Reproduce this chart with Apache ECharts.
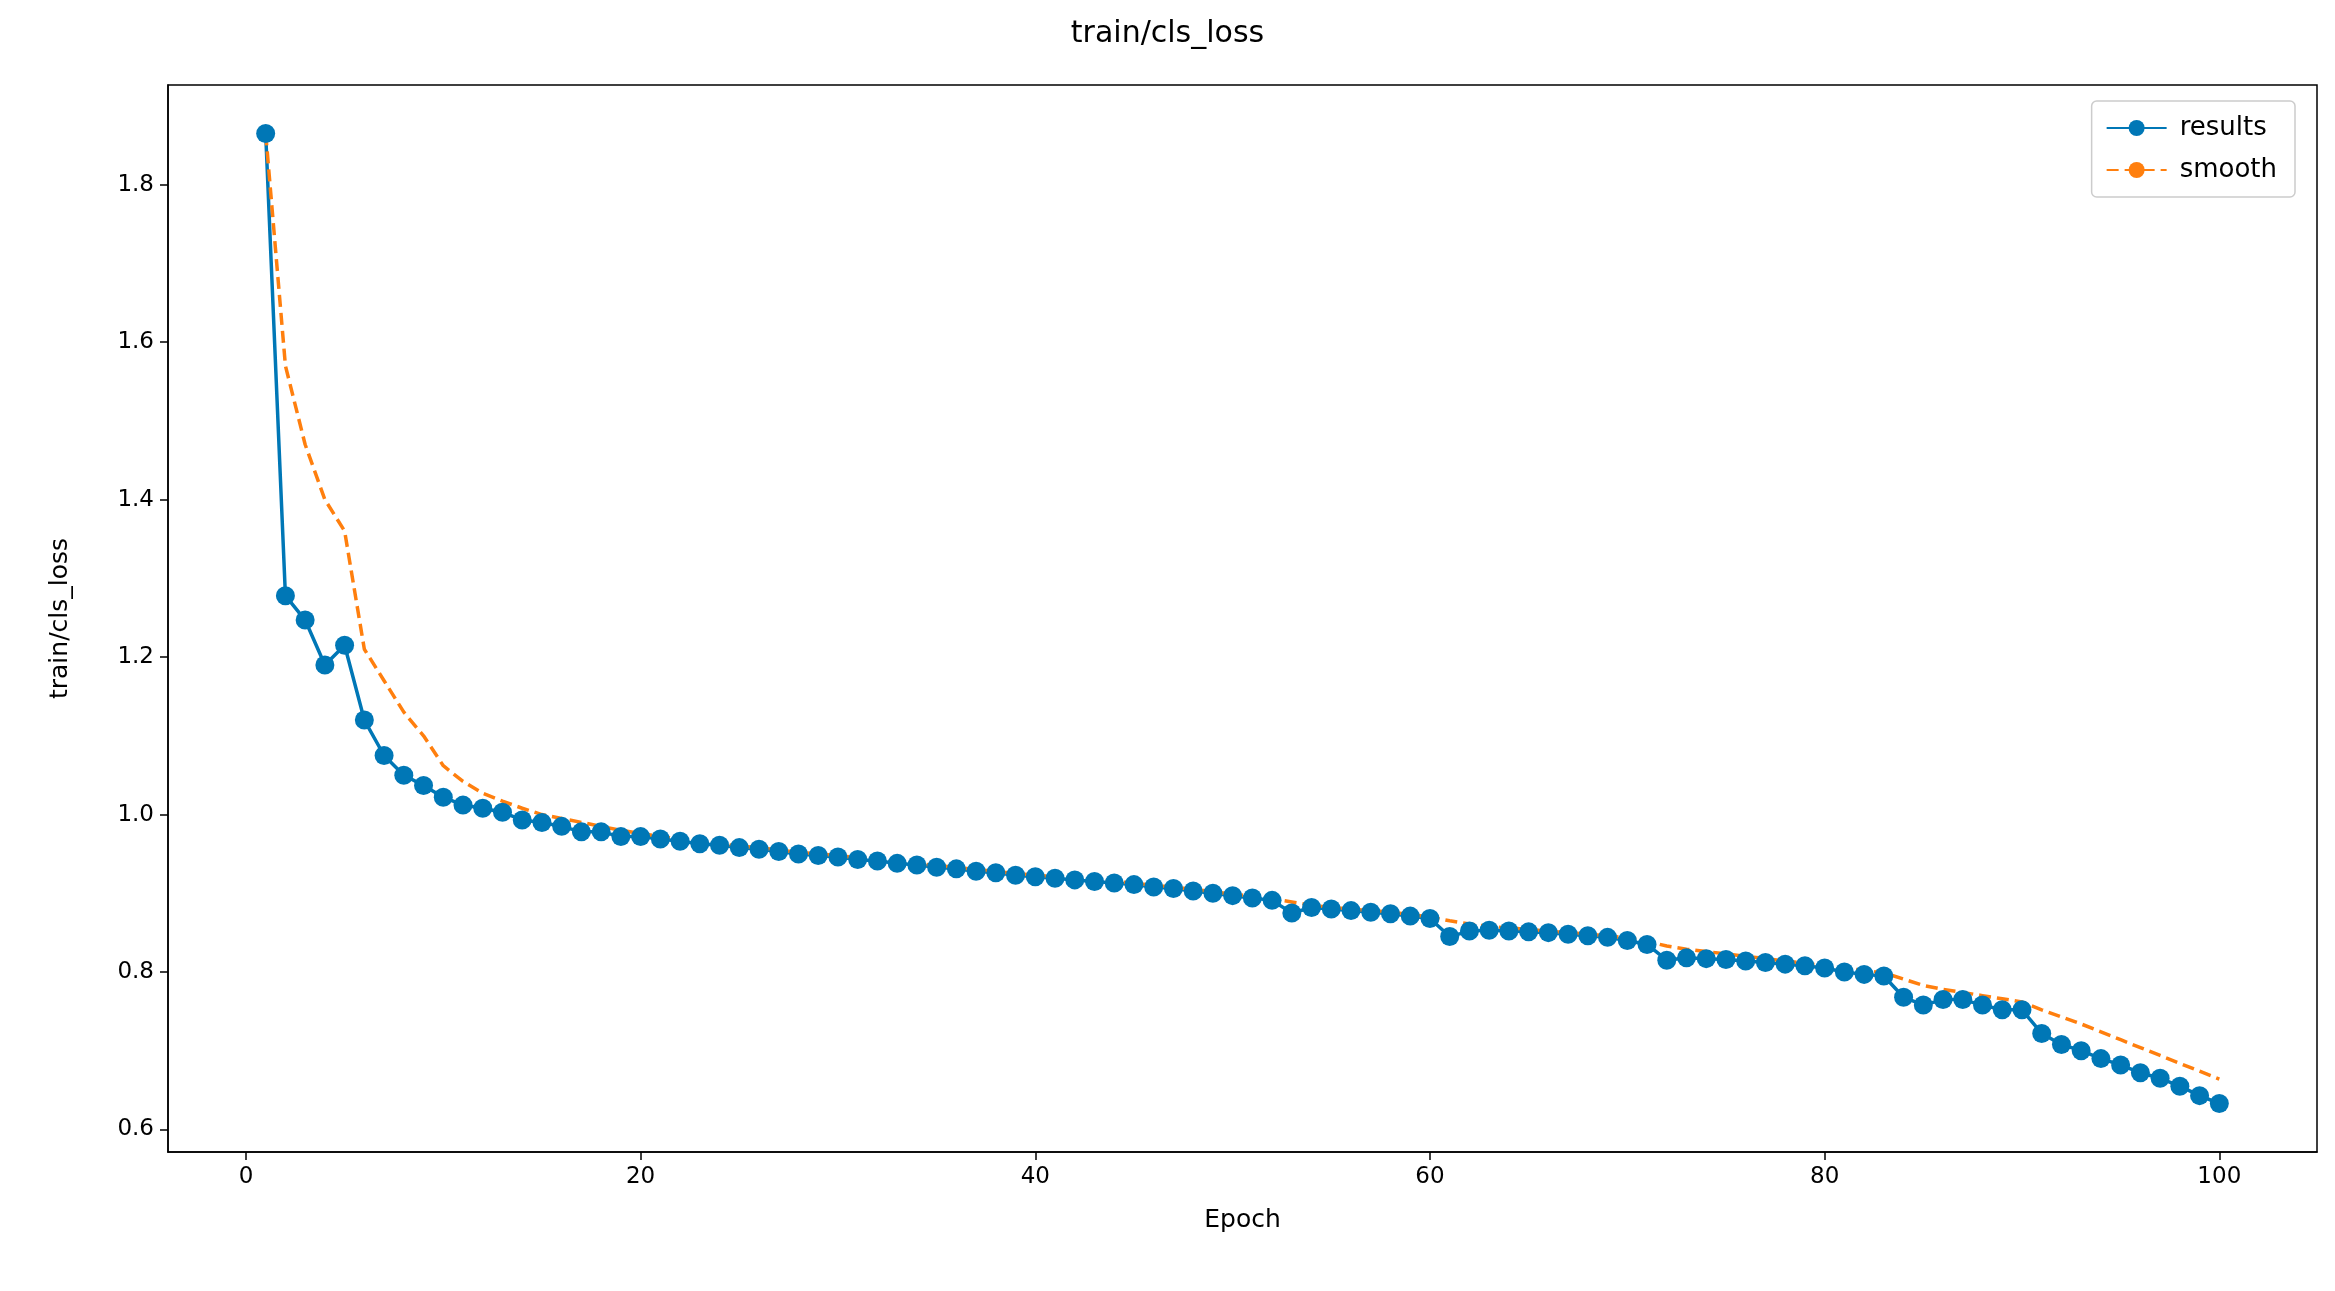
<!DOCTYPE html>
<html><head><meta charset="utf-8">
<script src="https://cdn.jsdelivr.net/npm/echarts@6/dist/echarts.min.js"></script>
<style>html,body{margin:0;padding:0;background:#fff}#c{width:2335px;height:1291px}</style>
</head><body><div id="c"></div>
<script>
const epochs = Array.from({length:100},(_, i)=>i+1);
const results = [1.865,1.278,1.247,1.19,1.215,1.12,1.075,1.05,1.037,1.022,
1.012,1.008,1.003,0.993,0.99,0.985,0.978,0.978,0.972,0.972,
0.969,0.966,0.963,0.961,0.958,0.956,0.953,0.950,0.948,0.946,
0.943,0.941,0.938,0.936,0.933,0.931,0.928,0.926,0.923,0.921,
0.919,0.917,0.915,0.913,0.911,0.908,0.906,0.903,0.900,0.897,
0.894,0.891,0.875,0.882,0.880,0.878,0.876,0.874,0.871,0.868,
0.845,0.852,0.853,0.852,0.851,0.850,0.848,0.846,0.844,0.840,
0.835,0.815,0.818,0.817,0.816,0.814,0.812,0.810,0.808,0.805,
0.800,0.797,0.795,0.768,0.758,0.765,0.765,0.758,0.752,0.752,
0.722,0.708,0.700,0.690,0.682,0.672,0.665,0.655,0.643,0.633];
const smooth = [1.865,1.57,1.47,1.40,1.36,1.21,1.17,1.13,1.10,1.062,
1.042,1.027,1.017,1.008,1.000,0.995,0.990,0.985,0.980,0.976,
0.972,0.969,0.966,0.963,0.960,0.958,0.955,0.952,0.950,0.948,
0.945,0.943,0.940,0.938,0.935,0.933,0.930,0.928,0.925,0.923,
0.921,0.919,0.917,0.915,0.913,0.910,0.908,0.905,0.902,0.899,
0.896,0.893,0.889,0.885,0.882,0.880,0.878,0.876,0.873,0.870,
0.865,0.861,0.858,0.856,0.854,0.852,0.850,0.848,0.846,0.843,
0.839,0.833,0.829,0.826,0.823,0.820,0.817,0.814,0.811,0.808,
0.805,0.802,0.799,0.791,0.783,0.778,0.774,0.770,0.766,0.762,
0.752,0.743,0.734,0.724,0.714,0.704,0.694,0.684,0.674,0.664];
const yTicks = [0.6,0.8,1.0,1.2,1.4,1.6,1.8];
const xTicks = [0,20,40,60,80,100];
const F = 'DejaVu Sans';
const chart = echarts.init(document.getElementById('c'));
chart.setOption({
  animation:false,
  title:{text:'train/cls_loss',left:'center',top:14,textStyle:{fontFamily:F,fontSize:30,fontWeight:'normal',color:'#000'}},
  legend:{right:40,top:101,orient:'vertical',itemWidth:60,itemHeight:20,itemGap:16,padding:[14,18,14,14],
    borderColor:'#ccc',borderWidth:1.5,borderRadius:5,backgroundColor:'#fff',
    textStyle:{fontFamily:F,fontSize:26,color:'#000',padding:[0,0,0,8]},data:['results','smooth']},
  grid:{left:168,right:18,top:85,bottom:139},
  xAxis:{type:'value',min:-3.95,max:104.95,name:'Epoch',nameLocation:'middle',nameGap:56,
    nameTextStyle:{fontFamily:F,fontSize:25,color:'#000'},
    axisLine:{onZero:false,lineStyle:{color:'#000',width:1.5}},splitLine:{show:false},
    axisTick:{customValues:xTicks,length:8,lineStyle:{color:'#000',width:1.5}},
    axisLabel:{customValues:xTicks,fontFamily:F,fontSize:23,color:'#000',margin:14}},
  yAxis:{type:'value',min:0.5714,max:1.9266,name:'train/cls_loss',nameLocation:'middle',nameGap:95,
    nameTextStyle:{fontFamily:F,fontSize:25,color:'#000'},
    axisLine:{show:true,onZero:false,lineStyle:{color:'#000',width:1.5}},splitLine:{show:false},
    axisTick:{show:true,customValues:yTicks,length:8,lineStyle:{color:'#000',width:1.5}},
    axisLabel:{customValues:yTicks,fontFamily:F,fontSize:23,color:'#000',margin:14,formatter:v=>v.toFixed(1)}},
  series:[
    {name:'results',type:'line',data:epochs.map((e,i)=>[e,results[i]]),symbol:'circle',symbolSize:19,
     itemStyle:{color:'#0077b6'},lineStyle:{color:'#0077b6',width:3.5}},
    {name:'smooth',type:'line',data:epochs.map((e,i)=>[e,smooth[i]]),symbol:'none',
     itemStyle:{color:'#ff7f0e'},lineStyle:{color:'#ff7f0e',width:3.5,type:[12,6]}}
  ],
  graphic:[{type:'rect',shape:{x:168,y:85,width:2149,height:1067},style:{fill:'none',stroke:'#000',lineWidth:1.5},silent:true,z:100}]
});
</script></body></html>
